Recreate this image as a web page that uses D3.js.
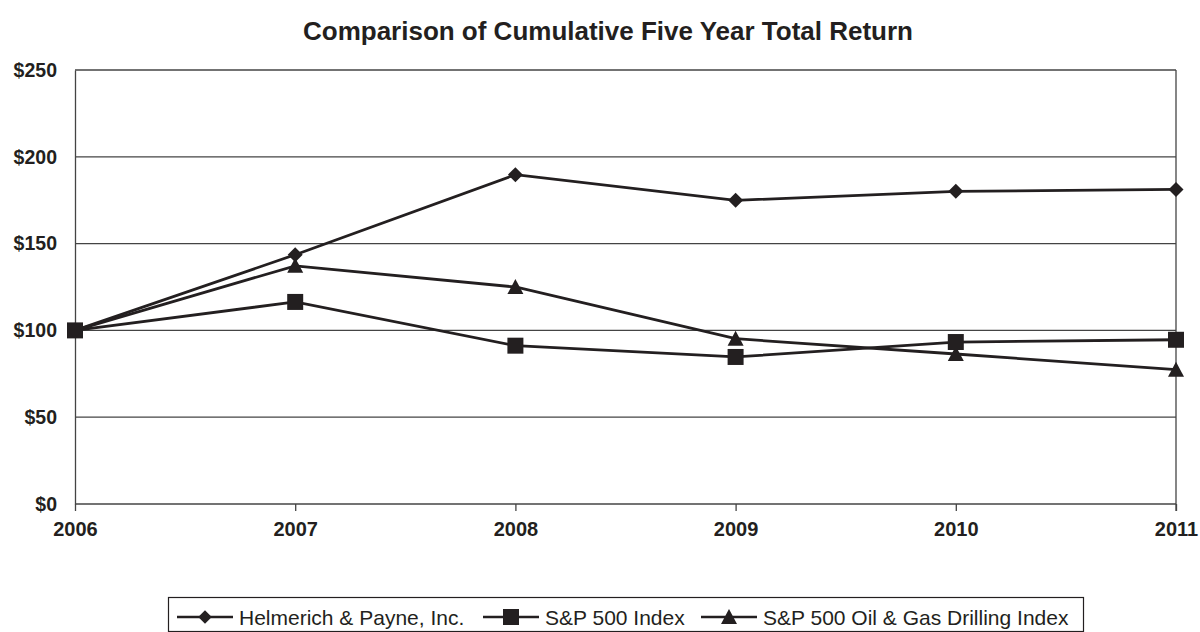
<!DOCTYPE html>
<html><head><meta charset="utf-8">
<script src="https://cdn.jsdelivr.net/npm/d3@7"></script>
<style>body{margin:0;background:#fff}svg{display:block}</style>
</head><body><svg id="c" width="1200" height="632"></svg>
<script>
const years = [2006, 2007, 2008, 2009, 2010, 2011];
const helmerich = [100, 143.6, 189.7, 174.9, 180.1, 181.2];
const sp500 = [100, 116.4, 91.2, 84.7, 93.3, 94.6];
const oilGas = [100, 137.2, 125.0, 95.2, 86.4, 77.4];
const yTicks = [0, 50, 100, 150, 200, 250];
const seriesNames = ["Helmerich & Payne, Inc.", "S&P 500 Index", "S&P 500 Oil & Gas Drilling Index"];
const title = "Comparison of Cumulative Five Year Total Return";

const ink = "#231f20";
const svg = d3.select("#c");
const L = 75, R = 1176, T = 70, B = 504;
const x = d3.scalePoint().domain(years).range([L, R]);
const y = d3.scaleLinear().domain([0, 250]).range([B, T]);
const font = "'Liberation Sans', Arial, sans-serif";

svg.append("text").attr("x", 608).attr("y", 40).attr("text-anchor", "middle")
  .attr("font-family", font)
  .attr("font-weight", "bold").attr("font-size", 25).attr("fill", ink)
  .attr("textLength", 610).attr("lengthAdjust", "spacingAndGlyphs").text(title);

// gridlines
svg.append("g").selectAll("line").data(yTicks.filter(d => d > 0)).join("line")
  .attr("x1", L).attr("x2", R).attr("y1", d => y(d)).attr("y2", d => y(d))
  .attr("stroke", "#444").attr("stroke-width", 1.3);

// y axis
const ya = svg.append("g").attr("transform", `translate(${L},0)`)
  .call(d3.axisLeft(y).tickValues(yTicks).tickSize(0).tickPadding(18).tickFormat(d => "$" + d));
ya.select(".domain").attr("stroke", "#444").attr("stroke-width", 1.3);
ya.selectAll("text").attr("font-family", font)
  .attr("font-weight", "bold").attr("font-size", 19.5).attr("fill", ink);

// right border
svg.append("line").attr("x1", R).attr("x2", R).attr("y1", T).attr("y2", B + 7)
  .attr("stroke", "#444").attr("stroke-width", 1.3);

// x axis
const xa = svg.append("g").attr("transform", `translate(0,${B})`)
  .call(d3.axisBottom(x).tickSize(7).tickPadding(11).tickFormat(d => String(d)));
xa.select(".domain").attr("stroke", "#444").attr("stroke-width", 1.3).attr("d", `M${L},0H${R}`);
xa.selectAll(".tick line").attr("stroke", "#444").attr("stroke-width", 1.3);
xa.selectAll("text").attr("font-family", font)
  .attr("font-weight", "bold").attr("font-size", 20).attr("fill", ink);

function markerPath(kind, s){
  s = s || 1;
  if (kind === 0) return `M0,${-7.5*s}L${7.5*s},0L0,${7.5*s}L${-7.5*s},0Z`;
  if (kind === 1) return "M-8,-8H8V8H-8Z";
  return "M0,-9L8,6H-8Z";
}

const data = [helmerich, sp500, oilGas];
const line = d3.line().x((d, i) => x(years[i])).y(d => y(d));
[2, 1, 0].forEach(k => {
  svg.append("path").attr("d", line(data[k])).attr("fill", "none")
    .attr("stroke", ink).attr("stroke-width", 2.8).attr("stroke-linejoin", "miter");
});
[2, 1, 0].forEach(k => {
  svg.append("g").selectAll("path").data(data[k]).join("path")
    .attr("transform", (d, i) => `translate(${x(years[i])},${y(d) + (k === 2 ? 1 : 0)})`)
    .attr("d", markerPath(k)).attr("fill", ink);
});

// legend
const lg = svg.append("g");
lg.append("rect").attr("x", 168.5).attr("y", 597.5).attr("width", 915).attr("height", 34)
  .attr("fill", "none").attr("stroke", ink).attr("stroke-width", 1.2);
const lx = [177, 483, 701];
seriesNames.forEach((n, k) => {
  const g = lg.append("g").attr("transform", `translate(${lx[k]},617)`);
  g.append("line").attr("x1", 0).attr("x2", 56).attr("stroke", ink).attr("stroke-width", 2.6);
  g.append("path").attr("transform", `translate(28,${k === 2 ? 1 : 0})`).attr("d", markerPath(k, k === 0 ? 0.9 : 1)).attr("fill", ink);
  g.append("text").attr("x", 62).attr("y", 8).attr("font-family", font)
    .attr("font-size", 21).attr("fill", ink).text(n);
});
</script></body></html>
